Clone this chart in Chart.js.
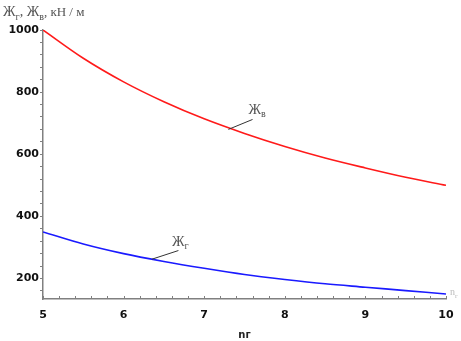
<!DOCTYPE html>
<html>
<head>
<meta charset="utf-8">
<script src="https://cdn.jsdelivr.net/npm/chart.js@4"></script>
<style>
  html, body { margin: 0; padding: 0; background: #fff; }
  #wrap { width: 461px; height: 341px; }
</style>
</head>
<body>
<div id="wrap"><canvas id="chartCanvas" width="461" height="341"></canvas></div>
<script>
// values
const nValues = [5, 5.5, 6, 6.5, 7, 7.5, 8, 8.5, 9, 9.5, 10];
const zhV = [1000, 909, 833, 769, 714, 667, 625, 588, 556, 526, 500];
const zhG = [350, 311, 280, 255, 233, 213, 197, 183, 172, 161, 150];
const yTickLabels = [200, 400, 600, 800, 1000];
const xTickLabels = [5, 6, 7, 8, 9, 10];

const axisColor = "#808080";
const tickFont = { family: "'DejaVu Sans', Arial, sans-serif", size: 11, weight: "bold" };

// draws a subscripted label like Жг
function subLabel(ctx, x, y, main, sub, size) {
  ctx.font = size + "px 'Liberation Serif', 'DejaVu Serif', serif";
  ctx.fillText(main, x, y);
  const w = ctx.measureText(main).width;
  ctx.font = Math.round(size * 0.7) + "px 'Liberation Serif', 'DejaVu Serif', serif";
  ctx.fillText(sub, x + w, y + size * 0.25);
  return w + ctx.measureText(sub).width;
}

const labelsPlugin = {
  id: "curveLabels",
  afterDraw(chart) {
    const ctx = chart.ctx;
    const xs = chart.scales.x, ys = chart.scales.y;
    ctx.save();

    // x minor ticks point up into the plot
    ctx.strokeStyle = axisColor;
    ctx.lineWidth = 1;
    ctx.beginPath();
    xs.ticks.forEach((t) => {
      const px = Math.round(xs.getPixelForValue(t.value)) + 0.5;
      ctx.moveTo(px, ys.bottom);
      ctx.lineTo(px, ys.bottom - 3);
    });
    ctx.stroke();

    ctx.fillStyle = "#555";
    ctx.textBaseline = "alphabetic";

    // axis title at top left
    let x = 3;
    x += subLabel(ctx, x, 16, "Ж", "г", 14);
    ctx.font = "14px 'Liberation Serif', serif";
    ctx.fillText(", ", x, 16); x += ctx.measureText(", ").width;
    x += subLabel(ctx, x, 16, "Ж", "в", 14);
    ctx.font = "13px 'Liberation Serif', serif";
    ctx.fillText(", кН / м", x, 16);

    // leader lines to curves
    ctx.strokeStyle = "#333";
    ctx.beginPath();
    ctx.moveTo(xs.getPixelForValue(7.3), ys.getPixelForValue(680));
    ctx.lineTo(xs.getPixelForValue(7.6), ys.getPixelForValue(712));
    ctx.moveTo(xs.getPixelForValue(6.35), ys.getPixelForValue(262));
    ctx.lineTo(xs.getPixelForValue(6.68), ys.getPixelForValue(290));
    ctx.stroke();

    subLabel(ctx, xs.getPixelForValue(7.55), ys.getPixelForValue(730), "Ж", "в", 14);
    subLabel(ctx, xs.getPixelForValue(6.6), ys.getPixelForValue(305), "Ж", "г", 14);

    // faint axis name at the right end
    ctx.fillStyle = "#bbb";
    subLabel(ctx, xs.right + 4, ys.bottom - 4, "n", "г", 10);

    // x axis name
    ctx.fillStyle = "#222";
    ctx.font = "bold 10px 'DejaVu Sans', Arial, sans-serif";
    ctx.textAlign = "center";
    ctx.fillText("nг", (xs.left + xs.right) / 2, 338);
    ctx.restore();
  }
};

const ctx = document.getElementById("chartCanvas").getContext("2d");
new Chart(ctx, {
  type: "line",
  data: {
    datasets: [
      {
        label: "Жв",
        data: nValues.map((n, i) => ({ x: n, y: zhV[i] })),
        borderColor: "#ff1a1a",
        borderWidth: 1.6,
        pointRadius: 0,
        cubicInterpolationMode: "monotone"
      },
      {
        label: "Жг",
        data: nValues.map((n, i) => ({ x: n, y: zhG[i] })),
        borderColor: "#1a1aff",
        borderWidth: 1.6,
        pointRadius: 0,
        cubicInterpolationMode: "monotone"
      }
    ]
  },
  options: {
    responsive: false,
    animation: false,
    layout: { padding: { left: 0, right: 15, top: 30, bottom: 6 } },
    plugins: { legend: { display: false }, tooltip: { enabled: false } },
    scales: {
      x: {
        type: "linear",
        min: 5,
        max: 10,
        afterBuildTicks: (axis) => {
          const t = [];
          for (let i = 0; i <= 25; i++) t.push({ value: 5 + i * 0.2 });
          axis.ticks = t;
        },
        border: { color: axisColor, width: 1.5 },
        grid: { display: false },
        ticks: {
          font: tickFont,
          color: "#111",
          padding: 2,
          maxRotation: 0,
          autoSkip: false,
          callback: (v) => {
            const r = Math.round(v);
            return Math.abs(v - r) < 1e-6 && xTickLabels.includes(r) ? String(r) : "";
          }
        },
        afterFit: (axis) => { axis.height = 36; }
      },
      y: {
        min: 134,
        max: 1000,
        afterBuildTicks: (axis) => {
          const t = [];
          for (let v = 160; v <= 1000; v += 40) t.push({ value: v });
          axis.ticks = t;
        },
        border: { color: axisColor, width: 1.5 },
        grid: { drawOnChartArea: false, tickLength: 3, color: axisColor },
        ticks: {
          font: tickFont,
          color: "#111",
          padding: 1,
          autoSkip: false,
          callback: (v) => yTickLabels.includes(v) ? String(v) : ""
        },
        afterFit: (axis) => { axis.width = 43; }
      }
    }
  },
  plugins: [labelsPlugin]
});
</script>
</body>
</html>
